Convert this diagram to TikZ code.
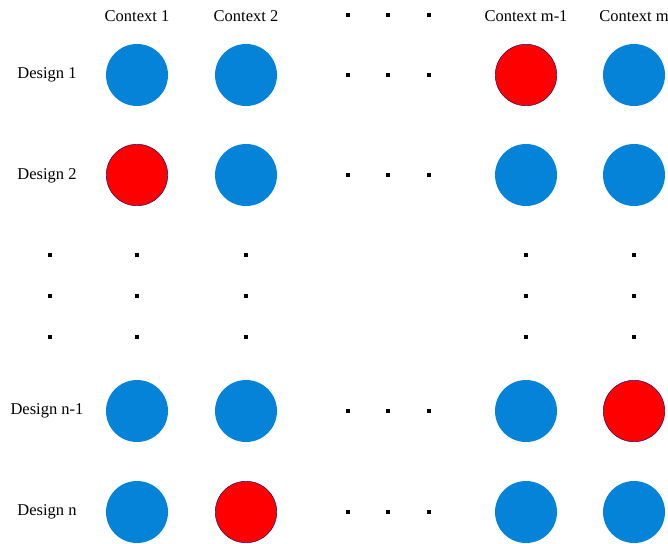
\documentclass[tikz,border=0pt]{standalone}
\usepackage{fontspec}
\setmainfont{Liberation Serif}
\definecolor{cellblue}{RGB}{4,131,216}
\definecolor{cellred}{RGB}{255,0,0}
\begin{document}
\begin{tikzpicture}[x=1pt,y=-1pt,
	every node/.style={font=\fontsize{16.5}{20}\selectfont},
	ok/.style={circle, fill=cellblue, minimum size=62pt, inner sep=0pt},
	bad/.style={circle, fill=cellred, draw=blue!45!black, line width=0.4pt, minimum size=61.5pt, inner sep=0pt},
	gap/.style={rectangle, fill=black, minimum size=4pt, inner sep=0pt}]
	\useasboundingbox (0,0) rectangle (668,543);

	\node (ctx1) at (137,16) {Context 1};
	\node (ctx2) at (246,16) {Context 2};
	\node (ctxm1) at (526,16) {Context m-1};
	\node (ctxm) at (634,16) {Context m};

	\node (dsg1) at (47,75) {Design 1};
	\node (dsg2) at (47,176) {Design 2};
	\node (dsgn1) at (47,411) {Design n-1};
	\node (dsgn) at (47,512) {Design n};

	\node[ok] (c11) at (137,75) {};
	\node[ok] (c12) at (246,75) {};
	\node[bad] (c1m1) at (526,75) {};
	\node[ok] (c1m) at (634,75) {};

	\node[bad] (c21) at (137,175) {};
	\node[ok] (c22) at (246,175) {};
	\node[ok] (c2m1) at (526,175) {};
	\node[ok] (c2m) at (634,175) {};

	\node[ok] (cn11) at (137,411) {};
	\node[ok] (cn12) at (246,411) {};
	\node[ok] (cn1m1) at (526,411) {};
	\node[bad] (cn1m) at (634,411) {};

	\node[ok] (cn1) at (137,512) {};
	\node[bad] (cn2) at (246,512) {};
	\node[ok] (cnm1) at (526,512) {};
	\node[ok] (cnm) at (634,512) {};

	% dots across
	\foreach \y in {15,75,175,411,512}
		\foreach \x in {348,388,429}
			\node[gap] at (\x,\y) {};
	% dots down
	\foreach \x in {50,137,246,526,634}
		\foreach \y in {255,296,337}
			\node[gap] at (\x,\y) {};
\end{tikzpicture}
\end{document}
